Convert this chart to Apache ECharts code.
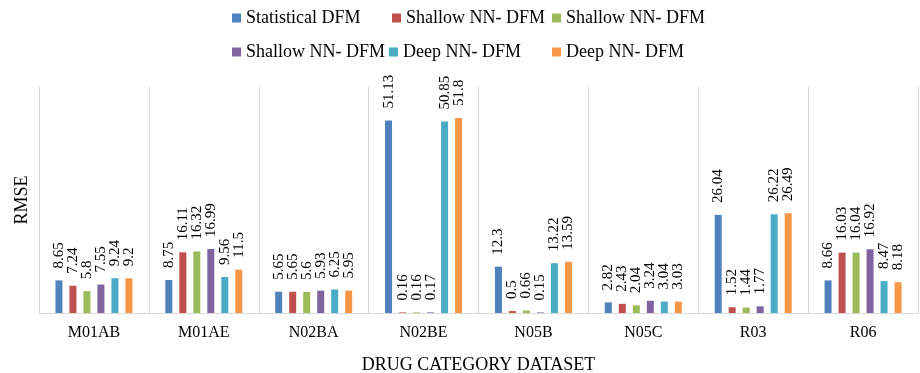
<!DOCTYPE html>
<html>
<head>
<meta charset="utf-8">
<script src="https://cdn.jsdelivr.net/npm/echarts@6/dist/echarts.min.js"></script>
<style>
  html, body { margin: 0; padding: 0; background: #fff; }
  #chart { width: 920px; height: 373px; }
</style>
</head>
<body>
<div id="chart"></div>
<script>
// Drug category datasets on the x axis
const categories = ['M01AB', 'M01AE', 'N02BA', 'N02BE', 'N05B', 'N05C', 'R03', 'R06'];

// Legend text for each model series (several models share a label)
const legendLabels = ['Statistical DFM', 'Shallow NN- DFM', 'Shallow NN- DFM',
                      'Shallow NN- DFM', 'Deep NN- DFM', 'Deep NN- DFM'];

// RMSE per model, one value per category
const statisticalDfm = [8.65, 8.75, 5.65, 51.13, 12.3, 2.82, 26.04, 8.66];
const shallowDfmA    = [7.24, 16.11, 5.65, 0.16, 0.5, 2.43, 1.52, 16.03];
const shallowDfmB    = [5.8, 16.32, 5.6, 0.16, 0.66, 2.04, 1.44, 16.04];
const shallowDfmC    = [7.55, 16.99, 5.93, 0.17, 0.15, 3.24, 1.77, 16.92];
const deepDfmA       = [9.24, 9.56, 6.25, 50.85, 13.22, 3.04, 26.22, 8.47];
const deepDfmB       = [9.2, 11.5, 5.95, 51.8, 13.59, 3.03, 26.49, 8.18];

const seriesValues = [statisticalDfm, shallowDfmA, shallowDfmB, shallowDfmC, deepDfmA, deepDfmB];
const colors = ['#4F81BD', '#C0504D', '#9BBB59', '#8064A2', '#4BACC6', '#F79646'];

const FONT = "'Liberation Serif', 'Times New Roman', serif";

// Legend laid out as a 3-column, 2-row grid
const legendSpots = [
  { left: 232, top: 8 }, { left: 392, top: 8 }, { left: 552, top: 8 },
  { left: 232, top: 42 }, { left: 389, top: 42 }, { left: 552, top: 42 }
];

const seriesIds = seriesValues.map((_, i) => 'model' + i);

const legends = seriesIds.map((id, i) => ({
  data: [id],
  left: legendSpots[i].left,
  top: legendSpots[i].top,
  padding: 0,
  itemWidth: 9,
  itemHeight: 9,
  icon: 'rect',
  formatter: () => legendLabels[i],
  selectedMode: false,
  textStyle: { fontFamily: FONT, fontSize: 18, color: '#000', lineHeight: 20 }
}));

const series = seriesValues.map((vals, i) => ({
  name: seriesIds[i],
  type: 'bar',
  data: vals,
  barWidth: 7,
  barGap: '100%',
  itemStyle: { color: colors[i] },
  label: {
    show: true,
    position: 'top',
    distance: 12,
    rotate: 90,
    align: 'left',
    verticalAlign: 'middle',
    fontFamily: FONT,
    fontSize: 15,
    color: '#000',
    formatter: p => String(p.value)
  }
}));

const chart = echarts.init(document.getElementById('chart'));
chart.setOption({
  animation: false,
  backgroundColor: '#fff',
  legend: legends,
  grid: { left: 39, right: 2, top: 87, bottom: 60, containLabel: false, outerBoundsMode: 'none' },
  xAxis: {
    type: 'category',
    data: categories,
    axisLine: { show: true, lineStyle: { color: '#d9d9d9', width: 1 } },
    axisTick: { show: false },
    splitLine: { show: true, lineStyle: { color: '#d9d9d9', width: 1 } },
    axisLabel: { fontFamily: FONT, fontSize: 16, color: '#000', margin: 12 },
    name: 'DRUG CATEGORY DATASET',
    nameLocation: 'middle',
    nameGap: 43,
    nameTextStyle: { fontFamily: FONT, fontSize: 18, color: '#000' }
  },
  yAxis: {
    type: 'value',
    min: 0,
    max: 60,
    axisLine: { show: false },
    axisTick: { show: false },
    axisLabel: { show: false },
    splitLine: { show: false },
    name: 'RMSE',
    nameLocation: 'middle',
    nameGap: 8,
    nameTextStyle: { fontFamily: FONT, fontSize: 18, color: '#000' }
  },
  series: series
});
</script>
</body>
</html>
